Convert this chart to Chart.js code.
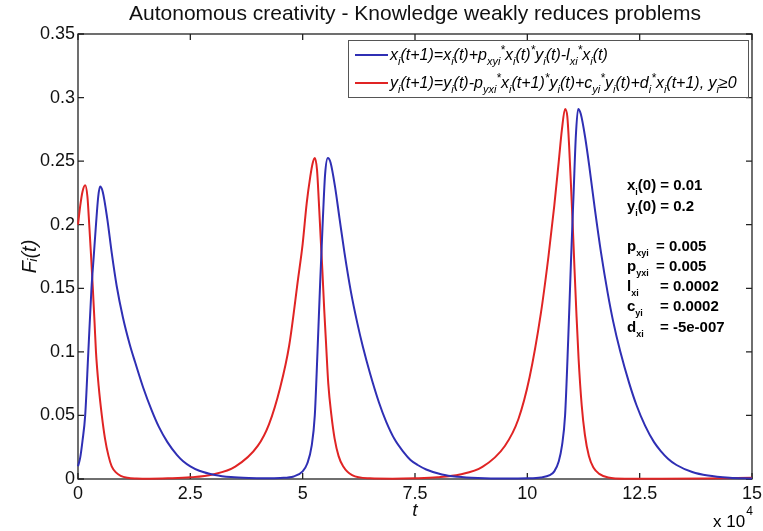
<!DOCTYPE html>
<html>
<head>
<meta charset="utf-8">
<script src="https://cdn.jsdelivr.net/npm/chart.js@4"></script>
<style>
  body { margin: 0; background: #fff; }
  #wrap { width: 763px; height: 531px; }
</style>
</head>
<body>
<div id="wrap"><canvas id="myChart" width="763" height="531"></canvas></div>
<script>
// time axis is in units of 10^4 steps
const blueT = [0, 0.05, 0.1, 0.16, 0.23, 0.3, 0.35, 0.4, 0.45, 0.49, 0.55, 0.65, 0.75, 0.86, 1.0, 1.15, 1.27, 1.45, 1.64, 1.8, 1.99, 2.2, 2.34, 2.5, 2.7, 3.05, 3.4, 3.8, 4.2, 4.5, 4.8, 5.0, 5.1, 5.2, 5.27, 5.33, 5.39, 5.45, 5.5, 5.56, 5.62, 5.72, 5.82, 5.93, 6.07, 6.22, 6.34, 6.5, 6.7, 6.86, 7.05, 7.25, 7.4, 7.56, 7.75, 8.1, 8.45, 8.9, 9.5, 10.0, 10.3, 10.5, 10.6, 10.7, 10.77, 10.84, 10.91, 10.97, 11.03, 11.08, 11.13, 11.19, 11.29, 11.39, 11.5, 11.64, 11.79, 11.91, 12.07, 12.27, 12.43, 12.62, 12.82, 12.97, 13.13, 13.32, 13.67, 14.02, 14.5, 15];
const blueF = [0.01, 0.017, 0.03, 0.05, 0.1, 0.15, 0.175, 0.2, 0.222, 0.23, 0.226, 0.205, 0.178, 0.152, 0.127, 0.106, 0.092, 0.072, 0.054, 0.041, 0.029, 0.019, 0.014, 0.01, 0.0065, 0.0032, 0.0015, 0.0007, 0.0005, 0.0008, 0.002, 0.006, 0.012, 0.026, 0.05, 0.1, 0.155, 0.205, 0.24, 0.2525, 0.249, 0.23, 0.205, 0.178, 0.148, 0.122, 0.104, 0.083, 0.06, 0.045, 0.031, 0.021, 0.015, 0.011, 0.0075, 0.0035, 0.0017, 0.0007, 0.0003, 0.0005, 0.0012, 0.003, 0.006, 0.014, 0.026, 0.05, 0.11, 0.17, 0.225, 0.27, 0.291, 0.287, 0.268, 0.243, 0.213, 0.178, 0.146, 0.124, 0.1, 0.075, 0.058, 0.042, 0.029, 0.022, 0.016, 0.011, 0.0055, 0.0027, 0.001, 0.0004];

const redT = [0, 0.05, 0.1, 0.16, 0.21, 0.25, 0.29, 0.33, 0.37, 0.4, 0.46, 0.53, 0.6, 0.68, 0.75, 0.85, 0.95, 1.1, 1.3, 1.6, 2.0, 2.5, 3.0, 3.5, 4.0, 4.25, 4.5, 4.7, 4.9, 5.0, 5.09, 5.17, 5.22, 5.27, 5.32, 5.36, 5.4, 5.44, 5.48, 5.52, 5.57, 5.64, 5.71, 5.8, 5.9, 6.1, 6.5, 7.0, 7.5, 8.0, 8.5, 9.0, 9.5, 9.8, 10.05, 10.3, 10.47, 10.6, 10.7, 10.77, 10.84, 10.89, 10.93, 10.97, 11.01, 11.05, 11.09, 11.14, 11.21, 11.28, 11.37, 11.47, 11.6, 11.8, 12.2, 13, 14, 15];
const redF = [0.2, 0.215, 0.226, 0.231, 0.222, 0.2, 0.176, 0.15, 0.122, 0.1, 0.073, 0.05, 0.032, 0.018, 0.01, 0.005, 0.0025, 0.001, 0.0004, 0.0002, 0.0005, 0.0013, 0.0036, 0.0097, 0.026, 0.043, 0.072, 0.105, 0.158, 0.185, 0.217, 0.238, 0.248, 0.2525, 0.243, 0.218, 0.19, 0.163, 0.133, 0.107, 0.075, 0.05, 0.032, 0.018, 0.01, 0.003, 0.0005, 0.0002, 0.0005, 0.0013, 0.0035, 0.0095, 0.026, 0.047, 0.08, 0.13, 0.175, 0.215, 0.25, 0.275, 0.291, 0.285, 0.262, 0.232, 0.2, 0.165, 0.132, 0.095, 0.058, 0.035, 0.018, 0.009, 0.004, 0.0012, 0.0002, 0.0001, 0.0003, 0.001];

const xTicks = [0, 2.5, 5, 7.5, 10, 12.5, 15];
const yTicks = [0, 0.05, 0.1, 0.15, 0.2, 0.25, 0.3, 0.35];

const blueColor = "#2f2fb4";
const redColor = "#e02424";
const fontFamily = "'Liberation Sans', Arial, sans-serif";

// legend text pieces: [text, kind]  kind: n = normal, b = subscript, p = superscript
const legendBlue = [["x", "n"], ["i", "b"], ["(t+1)=x", "n"], ["i", "b"], ["(t)+p", "n"], ["xyi", "b"], ["*", "p"], ["x", "n"], ["i", "b"], ["(t)", "n"], ["*", "p"], ["y", "n"], ["i", "b"], ["(t)-l", "n"], ["xi", "b"], ["*", "p"], ["x", "n"], ["i", "b"], ["(t)", "n"]];
const legendRed = [["y", "n"], ["i", "b"], ["(t+1)=y", "n"], ["i", "b"], ["(t)-p", "n"], ["yxi", "b"], ["*", "p"], ["x", "n"], ["i", "b"], ["(t+1)", "n"], ["*", "p"], ["y", "n"], ["i", "b"], ["(t)+c", "n"], ["yi", "b"], ["*", "p"], ["y", "n"], ["i", "b"], ["(t)+d", "n"], ["i", "b"], ["*", "p"], ["x", "n"], ["i", "b"], ["(t+1), y", "n"], ["i", "b"], ["\u22650", "n"]];

// parameter block: label pieces, then the value text at valueX
const paramLines = [
  { y: 190, parts: [["x", "n"], ["i", "b"], ["(0) = 0.01", "n"]] },
  { y: 211, parts: [["y", "n"], ["i", "b"], ["(0) = 0.2", "n"]] },
  { y: 251, parts: [["p", "n"], ["xyi", "b"]], valueX: 656, value: "= 0.005" },
  { y: 271, parts: [["p", "n"], ["yxi", "b"]], valueX: 656, value: "= 0.005" },
  { y: 291, parts: [["l", "n"], ["xi", "b"]], valueX: 660, value: "= 0.0002" },
  { y: 311, parts: [["c", "n"], ["yi", "b"]], valueX: 660, value: "= 0.0002" },
  { y: 332, parts: [["d", "n"], ["xi", "b"]], valueX: 660, value: "= -5e-007" },
];

function drawRich(ctx, x, y, parts, size, style, subScale) {
  const sub = subScale || 0.7;
  ctx.textBaseline = "alphabetic";
  ctx.textAlign = "left";
  parts.forEach(([txt, kind]) => {
    let s = size;
    let dy = 0;
    if (kind === "b") { s = Math.round(size * sub); dy = size * 0.32; }
    if (kind === "p") { s = Math.round(size * 0.75); dy = -size * 0.35; }
    ctx.font = style + " " + s + "px " + fontFamily;
    ctx.fillText(txt, x, y + dy);
    x += ctx.measureText(txt).width;
  });
  return x;
}

const matlabFrame = {
  id: "matlabFrame",
  beforeDatasetsDraw(chart) {
    const { ctx, chartArea: a, scales } = chart;
    ctx.save();
    ctx.strokeStyle = "#222";
    ctx.lineWidth = 1.3;
    ctx.strokeRect(a.left, a.top, a.right - a.left, a.bottom - a.top);
    ctx.beginPath();
    xTicks.forEach((v) => {
      const px = scales.x.getPixelForValue(v);
      ctx.moveTo(px, a.bottom); ctx.lineTo(px, a.bottom - 6);
      ctx.moveTo(px, a.top); ctx.lineTo(px, a.top + 6);
    });
    yTicks.forEach((v) => {
      const py = scales.y.getPixelForValue(v);
      ctx.moveTo(a.left, py); ctx.lineTo(a.left + 6, py);
      ctx.moveTo(a.right, py); ctx.lineTo(a.right - 6, py);
    });
    ctx.stroke();
    ctx.restore();
  },
  afterDraw(chart) {
    const { ctx } = chart;
    ctx.save();
    // legend box
    ctx.fillStyle = "#fff";
    ctx.fillRect(348, 40, 400, 57);
    ctx.strokeStyle = "#555";
    ctx.lineWidth = 1;
    ctx.strokeRect(348.5, 40.5, 400, 57);
    ctx.lineWidth = 2;
    ctx.strokeStyle = blueColor;
    ctx.beginPath(); ctx.moveTo(355, 55); ctx.lineTo(388, 55); ctx.stroke();
    ctx.strokeStyle = redColor;
    ctx.beginPath(); ctx.moveTo(355, 83); ctx.lineTo(388, 83); ctx.stroke();
    ctx.fillStyle = "#000";
    drawRich(ctx, 390, 60, legendBlue, 16, "italic");
    drawRich(ctx, 390, 88, legendRed, 16, "italic");

    // parameter block
    paramLines.forEach((line) => {
      drawRich(ctx, 627, line.y, line.parts, 15, "bold", 0.6);
      if (line.value) drawRich(ctx, line.valueX, line.y, [[line.value, "n"]], 15, "bold");
    });

    // exponent of the x axis
    const ex = drawRich(ctx, 713, 527, [["x 10", "n"]], 17, "normal");
    ctx.font = "12px " + fontFamily;
    ctx.fillText("4", ex + 1, 515);
    ctx.restore();
  },
};

const ctx = document.getElementById("myChart");

let myChart = new Chart(ctx, {
  type: "line",
  data: {
    datasets: [
      {
        label: "x",
        data: blueT.map((t, i) => ({ x: t, y: blueF[i] })),
        borderColor: blueColor,
        borderWidth: 2,
        pointRadius: 0,
        cubicInterpolationMode: "monotone",
        clip: 3,
      },
      {
        label: "y",
        data: redT.map((t, i) => ({ x: t, y: redF[i] })),
        borderColor: redColor,
        borderWidth: 2,
        pointRadius: 0,
        cubicInterpolationMode: "monotone",
        clip: 3,
      },
    ],
  },
  options: {
    responsive: false,
    animation: false,
    layout: { padding: { left: 0, right: 11, top: 0, bottom: 0 } },
    plugins: {
      legend: { display: false },
      tooltip: { enabled: false },
      title: {
        display: true,
        fullSize: false,
        text: "Autonomous creativity - Knowledge weakly reduces problems",
        color: "#111",
        font: { family: fontFamily, size: 21, weight: "normal", lineHeight: 1.2 },
        padding: { top: 2, bottom: 6.8 },
      },
    },
    scales: {
      x: {
        type: "linear",
        min: 0,
        max: 15,
        afterBuildTicks: (scale) => { scale.ticks = xTicks.map((v) => ({ value: v })); },
        afterFit: (scale) => { scale.height = 52; scale.paddingLeft = 0; scale.paddingRight = 0; },
        grid: { display: false, drawTicks: false },
        border: { display: false },
        ticks: {
          color: "#111",
          padding: 4,
          maxRotation: 0,
          font: { family: fontFamily, size: 18 },
          callback: (v) => String(v),
        },
        title: {
          display: true,
          text: "t",
          color: "#111",
          font: { family: fontFamily, size: 19, style: "italic", lineHeight: 1.2 },
          padding: { top: 0, bottom: 9 },
        },
      },
      y: {
        min: 0,
        max: 0.35,
        afterBuildTicks: (scale) => { scale.ticks = yTicks.map((v) => ({ value: v })); },
        afterFit: (scale) => { scale.width = 78; scale.paddingTop = 0; scale.paddingBottom = 0; },
        grid: { display: false, drawTicks: false },
        border: { display: false },
        ticks: {
          color: "#111",
          padding: 3,
          font: { family: fontFamily, size: 18 },
          callback: (v) => String(+v.toFixed(2)),
        },
        title: {
          display: true,
          text: "F\u1d62(t)",
          color: "#111",
          font: { family: fontFamily, size: 20, style: "italic", lineHeight: 1.2 },
          padding: { top: 18, bottom: 0 },
        },
      },
    },
  },
  plugins: [matlabFrame],
});
</script>
</body>
</html>
